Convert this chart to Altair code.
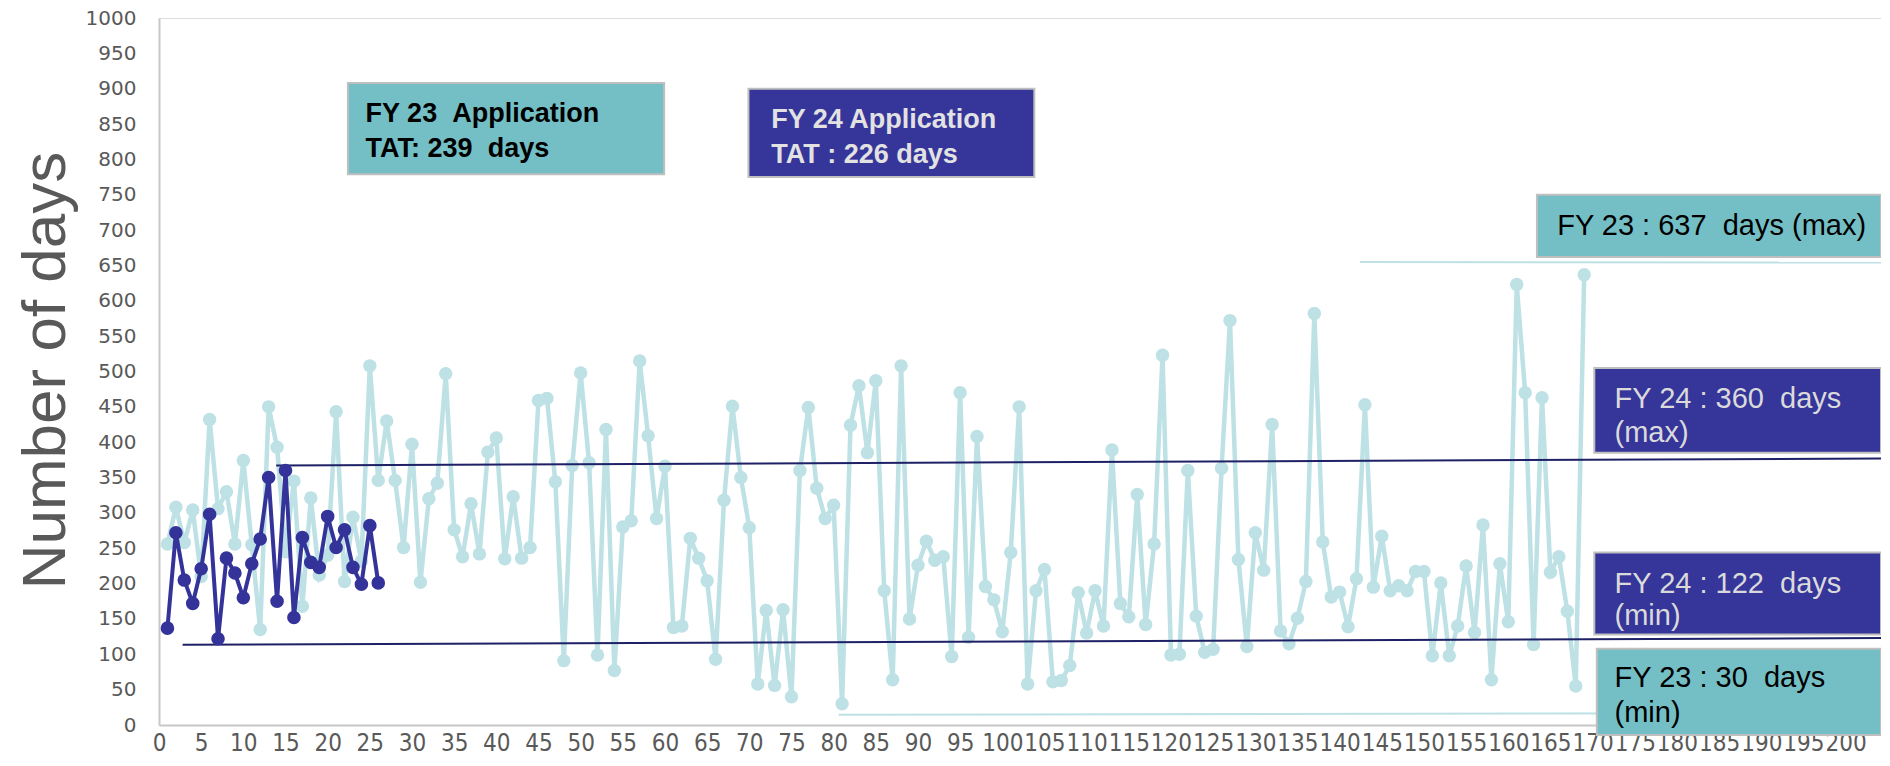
import altair as alt
import pandas as pd

# ---------------- data ----------------
fy23_days = [256, 308, 258, 304, 210, 432, 306, 330, 256, 374,
             255, 135, 450, 393, 245, 345, 168, 321, 212, 240,
             443, 203, 294, 232, 508, 346, 430, 346, 251, 397,
             202, 320, 342, 497, 276, 238, 313, 242, 386, 406,
             235, 323, 236, 251, 459, 462, 344, 91, 367, 498,
             371, 99, 418, 77, 280, 289, 515, 409, 292, 366,
             138, 140, 264, 236, 204, 93, 318, 451, 350, 279,
             58, 162, 56, 163, 40, 360, 449, 335, 292, 311,
             30, 424, 480, 385, 487, 190, 64, 508, 150, 226,
             260, 233, 238, 97, 470, 124, 408, 196, 177, 132,
             244, 450, 58, 190, 220, 61, 63, 84, 187, 130,
             190, 140, 389, 172, 153, 326, 142, 256, 523, 99,
             100, 360, 154, 103, 107, 363, 572, 234, 111, 272,
             219, 425, 133, 115, 151, 203, 582, 259, 181, 188,
             139, 207, 453, 195, 267, 190, 197, 190, 217, 217,
             98, 201, 98, 140, 225, 131, 283, 64, 228, 146,
             623, 470, 114, 463, 216, 238, 161, 55, 637]
fy24_days = [137, 272, 205, 172, 221, 298, 122, 236, 215, 180,
             228, 263, 350, 175, 360, 152, 265, 230, 223, 295,
             251, 276, 223, 199, 282, 201]
x_ticks = list(range(0, 201, 5))
y_ticks = list(range(0, 1001, 50))

# reference lines (max / min) : start, level at start, level at end
ref_names = ["FY24 max", "FY24 min", "FY23 max", "FY23 min"]
ref_start = [13.9, 2.8, 142.4, 80.6]
ref_level_a = [367, 113.5, 655, 14.5]
ref_level_b = [377, 123, 654, 17]

NB = "\u00a0"
# annotation boxes
box_names = ["fy23app", "fy24app", "fy23max", "fy24max", "fy24min", "fy23min"]
box_x1 = [22.4, 69.9, 163.4, 170.2, 170.2, 170.5]
box_x2 = [59.9, 103.8, None, None, None, None]   # None -> right edge
box_y1 = [908, 900, 750, 505, 244, 108]
box_y2 = [779, 775, 662, 385, 128, -14]
box_fill = ["#74BFC5", "#35359A", "#74BFC5", "#35359A", "#35359A", "#74BFC5"]

bold_text = ["FY 23 " + NB + "Application", "TAT: 239 " + NB + "days",
             "FY 24 Application", "TAT : 226 days"]
bold_x = [24.5, 24.5, 72.6, 72.6]
bold_y = [853, 804, 845, 795]
bold_col = ["#000000", "#000000", "#E2E2E2", "#E2E2E2"]

reg_text = ["FY 23 : 637 " + NB + "days (max)", "FY 24 : 360 " + NB + "days", "(max)",
            "FY 24 : 122 " + NB + "days", "(min)", "FY 23 : 30 " + NB + "days", "(min)"]
reg_x = [165.8, 172.6, 172.6, 172.6, 172.6, 172.6, 172.6]
reg_y = [693, 448, 400, 187, 141, 54, 4.7]
reg_col = ["#000000", "#DADADA", "#DADADA", "#DADADA", "#DADADA", "#000000", "#000000"]

# ---------------- layout ----------------
W, H = 1722, 707
X_MAX = W / 8.433

df23 = pd.DataFrame({"app": list(range(1, len(fy23_days) + 1)), "days": fy23_days})
df24 = pd.DataFrame({"app": list(range(1, len(fy24_days) + 1)), "days": fy24_days})
ref_df = pd.DataFrame({"name": ref_names, "x": ref_start, "x2": [X_MAX] * 4,
                       "y": ref_level_a, "y2": ref_level_b})
box_df = pd.DataFrame({"name": box_names, "x": box_x1,
                       "x2": [v if v is not None else X_MAX for v in box_x2],
                       "y": box_y1, "y2": box_y2, "fill": box_fill})
bold_df = pd.DataFrame({"t": bold_text, "x": bold_x, "y": bold_y, "c": bold_col})
reg_df = pd.DataFrame({"t": reg_text, "x": reg_x, "y": reg_y, "c": reg_col})

xs = alt.Scale(domain=[0, X_MAX], nice=False, zero=False)
ys = alt.Scale(domain=[0, 1000], nice=False)

x_axis = alt.Axis(values=x_ticks, labelOverlap=False, grid=False, ticks=False,
                  domainColor="#C8C8C8", domainWidth=2, title=None, format="d",
                  labelFont="Liberation Sans Narrow, DejaVu Sans Condensed, Liberation Sans",
                  labelFontSize=24, labelColor="#595959", labelPadding=6, labelFlush=False)
y_axis = alt.Axis(values=y_ticks, grid=False, ticks=False, domainColor="#C8C8C8",
                  domainWidth=2, labelFont="DejaVu Sans", labelFontSize=20,
                  labelColor="#595959", labelPadding=23, labelOverlap=False,
                  format="d", labelFlush=False,
                  title="Number of days", titleFont="Liberation Sans", titleFontSize=62,
                  titleFontWeight="normal", titleColor="#595959", titleAngle=270,
                  titleX=-95, titleY=352, titleAlign="center", titleBaseline="alphabetic")

LIGHT = "#BDE1E4"
DARK = "#333399"


def X(field):
    return alt.X(field, scale=xs, axis=x_axis)


def Y(field):
    return alt.Y(field, scale=ys, axis=y_axis)


base23 = alt.Chart(df23)
line23 = base23.mark_line(color=LIGHT, strokeWidth=4.5).encode(x=X("app:Q"), y=Y("days:Q"))
pts23 = base23.mark_circle(color=LIGHT, opacity=1, size=180).encode(x=X("app:Q"), y=Y("days:Q"))

rules = alt.Chart(ref_df).mark_rule(strokeWidth=2).encode(
    x=X("x:Q"), x2="x2:Q", y=Y("y:Q"), y2="y2:Q",
    color=alt.Color("name:N", scale=alt.Scale(domain=ref_names,
                    range=["#1F2166", "#1F2166", LIGHT, LIGHT]), legend=None))

base24 = alt.Chart(df24)
line24 = base24.mark_line(color=DARK, strokeWidth=4).encode(x=X("app:Q"), y=Y("days:Q"))
pts24 = base24.mark_circle(color=DARK, opacity=1, size=185).encode(x=X("app:Q"), y=Y("days:Q"))

boxes = alt.Chart(box_df).mark_rect(stroke="#BFBFBF", strokeWidth=2).encode(
    x=X("x:Q"), x2="x2:Q", y=Y("y:Q"), y2="y2:Q",
    fill=alt.Fill("fill:N", scale=None))

btxt = alt.Chart(bold_df).mark_text(font="Liberation Sans", fontSize=27, fontWeight="bold",
                                    align="left", baseline="alphabetic").encode(
    x=X("x:Q"), y=Y("y:Q"), text="t:N", color=alt.Color("c:N", scale=None))
rtxt = alt.Chart(reg_df).mark_text(font="Liberation Sans", fontSize=29,
                                   align="left", baseline="alphabetic").encode(
    x=X("x:Q"), y=Y("y:Q"), text="t:N", color=alt.Color("c:N", scale=None))

chart = alt.layer(line23, pts23, rules, line24, pts24, boxes, btxt, rtxt).properties(
    width=W, height=H,
    padding={"left": 151, "top": 10, "right": 0, "bottom": 32},
    autosize=alt.AutoSizeParams(type="none"),
).configure_view(stroke="transparent", strokeWidth=0).configure(background="white")

chart.save("out.html", embed_options={"renderer": "svg", "actions": False})
